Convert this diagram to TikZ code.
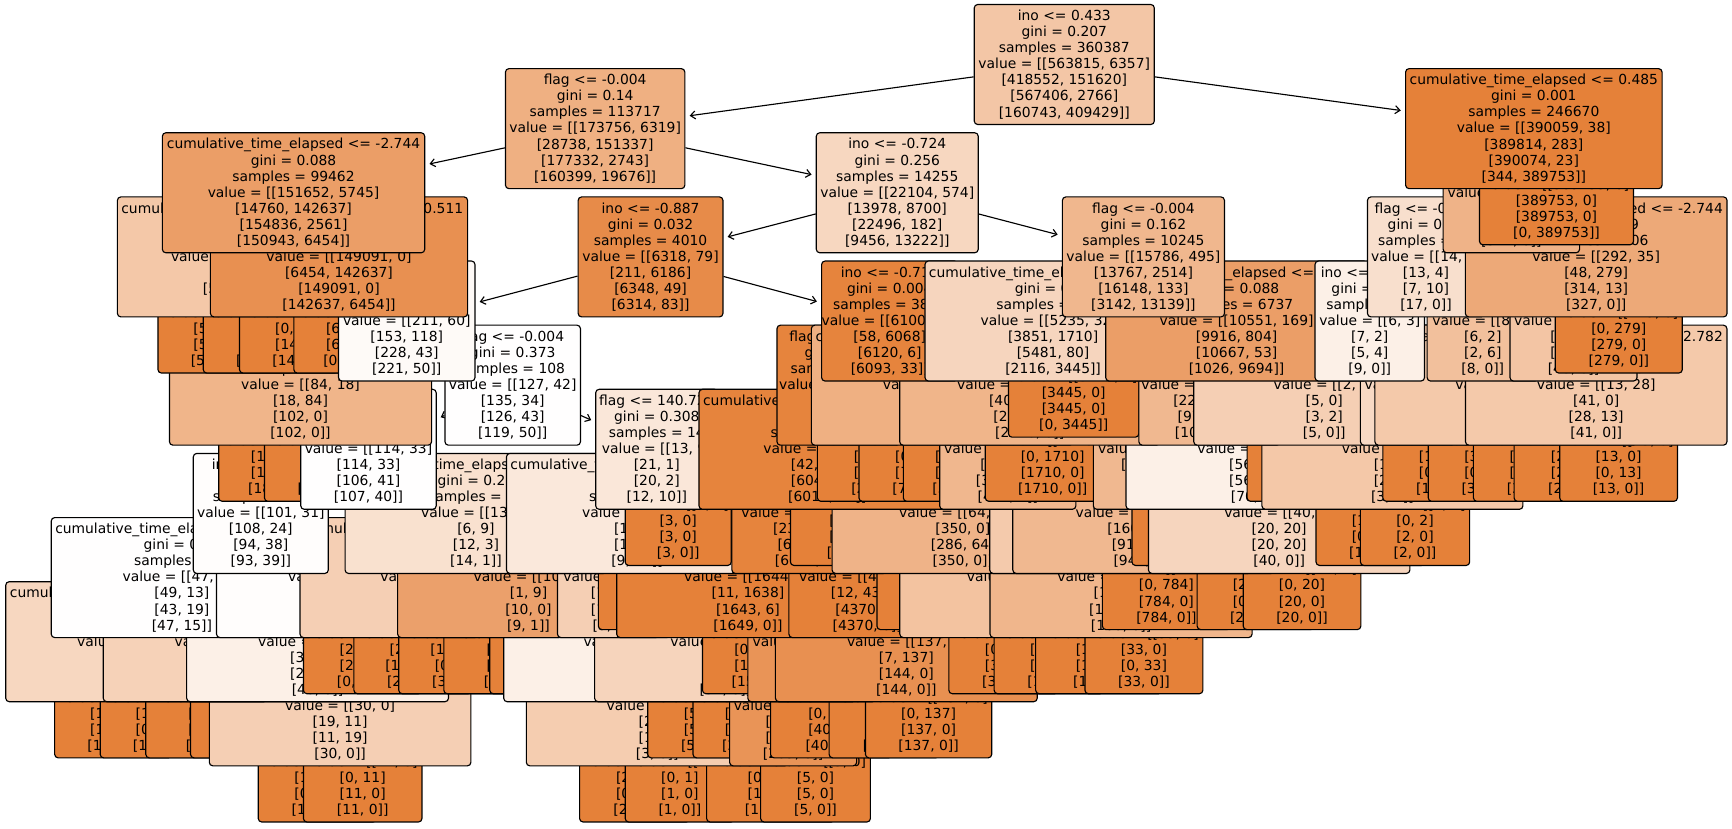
\documentclass[tikz,border=0pt]{standalone}
\usepackage{fontspec}
\setmainfont{DejaVu Sans}
\usetikzlibrary{arrows.meta}
\pgfdeclarelayer{l11}\pgfdeclarelayer{l10}\pgfdeclarelayer{l9}\pgfdeclarelayer{l8}
\pgfdeclarelayer{l7}\pgfdeclarelayer{l6}\pgfdeclarelayer{l5}\pgfdeclarelayer{l4}
\pgfdeclarelayer{l3}\pgfdeclarelayer{l2}\pgfdeclarelayer{l1}\pgfdeclarelayer{l0}
\pgfdeclarelayer{bg}
\pgfsetlayers{bg,l11,l10,l9,l8,l7,l6,l5,l4,l3,l2,l1,l0,main}
\definecolor{treeor}{HTML}{E58139}
\tikzset{
  treebox/.style={draw=black,line width=0.85pt,rounded corners=2.6pt,inner sep=0pt,align=center,
    font=\fontsize{10.4}{12.04}\selectfont,text=black,execute at begin node={\rule{0pt}{9.2pt}}},
  treearrow/.style={draw=black,line width=0.85pt,-{Straight Barb[length=3.6pt,width=6pt]},shorten >=3.2pt}
}
\newcommand{\ct}{cumulative\_time\_elapsed}
\newcommand{\inode}[6]{%
  \pgfmathsetmacro\bcx{(#2+#3)/2}\pgfmathsetmacro\bw{(#3-#2)*0.8284}\pgfmathsetmacro\bcy{64.5+64.13*#4}%
  \begin{pgfonlayer}{l#4}\node[treebox,fill=treeor!#5!white,minimum width=\bw pt,minimum height=90pt] (#1) at (\bcx,\bcy) {#6};\end{pgfonlayer}}
\newcommand{\leafn}[6]{%
  \pgfmathsetmacro\bcx{(#2+#3)/2}\pgfmathsetmacro\bw{(#3-#2)*0.8284}\pgfmathsetmacro\bcy{64.5+64.13*#4}%
  \begin{pgfonlayer}{l#4}\node[treebox,fill=treeor!#5!white,minimum width=\bw pt,minimum height=78pt] (#1) at (\bcx,\bcy) {#6};\end{pgfonlayer}}
\newcommand{\edge}[3]{\begin{pgfonlayer}{l#1}\draw[treearrow] (#2) -- (#3);\end{pgfonlayer}}
\begin{document}
\begin{tikzpicture}[x=0.8284pt,y=-0.75pt]
\begin{pgfonlayer}{bg}\path[fill=white] (0,0) rectangle (1568,828);\end{pgfonlayer}
\useasboundingbox (0,0) rectangle (1568,828);
% level 0
\inode{root}{882}{1045}{0}{45}{ino <= 0.433\\gini = 0.207\\samples = 360387\\value = [[563815, 6357]\\{}[418552, 151620]\\{}[567406, 2766]\\{}[160743, 409429]]}
% level 1
\inode{na}{457.6}{620}{1}{63}{flag <= -0.004\\gini = 0.14\\samples = 113717\\value = [[173756, 6319]\\{}[28738, 151337]\\{}[177332, 2743]\\{}[160399, 19676]]}
\inode{nb}{1272.5}{1504.7}{1}{100}{\ct{} <= 0.485\\gini = 0.001\\samples = 246670\\value = [[390059, 38]\\{}[389814, 283]\\{}[390074, 23]\\{}[344, 389753]]}
\edge{1}{root}{na}\edge{1}{root}{nb}
% level 2
\inode{nc}{147}{384.5}{2}{77}{\ct{} <= -2.744\\gini = 0.088\\samples = 99462\\value = [[151652, 5745]\\{}[14760, 142637]\\{}[154836, 2561]\\{}[150943, 6454]]}
\inode{nd}{739}{885.6}{2}{32}{ino <= -0.724\\gini = 0.256\\samples = 14255\\value = [[22104, 574]\\{}[13978, 8700]\\{}[22496, 182]\\{}[9456, 13222]]}
\inode{ne}{1306.5}{1430}{2}{60}{flag <= -0.004\\gini = 0.14\\samples = 217\\value = [[306, 38]\\{}[61, 283]\\{}[321, 23]\\{}[344, 0]]}
\leafn{nf}{1339.4}{1478.8}{2}{100}{gini = 0.0\\samples = 246453\\value = [[389753, 0]\\{}[389753, 0]\\{}[389753, 0]\\{}[0, 389753]]}
\edge{2}{na}{nc}\edge{2}{na}{nd}
% level 3
\inode{ng}{106.3}{342.7}{3}{44}{\ct{} <= -2.782\\gini = 0.21\\samples = 5258\\value = [[2561, 5745]\\{}[8306, 0]\\{}[5745, 2561]\\{}[8306, 0]]}
\inode{nh}{190.5}{423.3}{3}{88}{\ct{} <= 0.511\\gini = 0.052\\samples = 94204\\value = [[149091, 0]\\{}[6454, 142637]\\{}[149091, 0]\\{}[142637, 6454]]}
\inode{ni}{523.4}{654.5}{3}{92}{ino <= -0.887\\gini = 0.032\\samples = 4010\\value = [[6318, 79]\\{}[211, 6186]\\{}[6348, 49]\\{}[6314, 83]]}
\inode{nj}{961.8}{1108.5}{3}{57}{flag <= -0.004\\gini = 0.162\\samples = 10245\\value = [[15786, 495]\\{}[13767, 2514]\\{}[16148, 133]\\{}[3142, 13139]]}
\inode{nk}{1238}{1344}{3}{25}{flag <= -0.004\\gini = 0.28\\samples = 11\\value = [[14, 3]\\{}[13, 4]\\{}[7, 10]\\{}[17, 0]]}
\inode{nl}{1326.6}{1563.5}{3}{68}{\ct{} <= -2.744\\gini = 0.099\\samples = 206\\value = [[292, 35]\\{}[48, 279]\\{}[314, 13]\\{}[327, 0]]}
\edge{3}{nd}{ni}\edge{3}{nd}{nj}
% level 4
\leafn{la}{143}{265}{4}{100}{gini = 0.0\\samples = 3640\\value = [[5745, 0]\\{}[5745, 0]\\{}[5745, 0]\\{}[5745, 0]]}
\leafn{lb}{184}{306}{4}{100}{gini = 0.0\\samples = 1618\\value = [[2561, 0]\\{}[2561, 0]\\{}[0, 2561]\\{}[2561, 0]]}
\leafn{lc}{216.8}{355}{4}{100}{gini = 0.0\\samples = 94204\\value = [[149091, 0]\\{}[0, 149091]\\{}[149091, 0]\\{}[149091, 0]]}
\leafn{ld}{266}{382}{4}{100}{gini = 0.0\\samples = 4088\\value = [[6454, 0]\\{}[6454, 0]\\{}[6454, 0]\\{}[0, 6454]]}
\inode{le}{306.5}{430}{4}{4}{flag <= -0.004\\gini = 0.33\\samples = 171\\value = [[211, 60]\\{}[153, 118]\\{}[228, 43]\\{}[221, 50]]}
\inode{lf}{744}{867}{4}{98}{ino <= -0.716\\gini = 0.004\\samples = 3839\\value = [[6100, 26]\\{}[58, 6068]\\{}[6120, 6]\\{}[6093, 33]]}
\inode{lg}{837.4}{1069.4}{4}{33}{\ct{} <= 0.511\\gini = 0.25\\samples = 3508\\value = [[5235, 326]\\{}[3851, 1710]\\{}[5481, 80]\\{}[2116, 3445]]}
\inode{lh}{1001}{1238}{4}{77}{\ct{} <= -0.244\\gini = 0.088\\samples = 6737\\value = [[10551, 169]\\{}[9916, 804]\\{}[10667, 53]\\{}[1026, 9694]]}
\inode{lii}{1190.5}{1289.6}{4}{12}{ino <= -0.716\\gini = 0.33\\samples = 6\\value = [[6, 3]\\{}[7, 2]\\{}[5, 4]\\{}[9, 0]]}
\inode{lj}{1292}{1392.8}{4}{50}{ino <= -0.698\\gini = 0.19\\samples = 5\\value = [[8, 0]\\{}[6, 2]\\{}[2, 6]\\{}[8, 0]]}
\inode{lk}{1367}{1482}{4}{46}{ino <= -0.65\\gini = 0.21\\samples = 30\\value = [[13, 35]\\{}[48, 0]\\{}[36, 2]\\{}[48, 0]]}
\leafn{ll}{1408}{1523}{4}{100}{gini = 0.0\\samples = 176\\value = [[279, 0]\\{}[0, 279]\\{}[279, 0]\\{}[279, 0]]}
\edge{4}{ni}{le}\edge{4}{ni}{lf}
% level 5
\inode{ma}{153.4}{390.7}{5}{59}{\ct{} <= -2.801\\gini = 0.14\\samples = 64\\value = [[84, 18]\\{}[18, 84]\\{}[102, 0]\\{}[102, 0]]}
\inode{mb}{402.8}{525.5}{5}{0.5}{flag <= -0.004\\gini = 0.373\\samples = 108\\value = [[127, 42]\\{}[135, 34]\\{}[126, 43]\\{}[119, 50]]}
\inode{mc}{703.4}{814.6}{5}{98}{flag <= 0.002\\gini = 0.0\\samples = 46\\value = [[60, 13]\\{}[0, 73]\\{}[73, 0]\\{}[73, 0]]}
\inode{md}{734.5}{971.5}{5}{63}{\ct{} <= -2.801\\gini = 0.16\\samples = 24\\value = [[13, 26]\\{}[39, 0]\\{}[39, 0]\\{}[6, 33]]}
\inode{me}{814.5}{1050}{5}{59}{\ct{} <= 0.731\\gini = 0.16\\samples = 1330\\value = [[1790, 326]\\{}[406, 1710]\\{}[2036, 80]\\{}[2116, 0]]}
\leafn{mf}{913}{1031}{5}{100}{gini = 0.0\\samples = 2178\\value = [[3445, 0]\\{}[3445, 0]\\{}[3445, 0]\\{}[0, 3445]]}
\inode{mg}{1031}{1159}{5}{56}{flag <= -0.002\\gini = 0.17\\samples = 648\\value = [[857, 169]\\{}[222, 804]\\{}[973, 53]\\{}[1026, 0]]}
\inode{mh}{1080.7}{1317}{5}{38}{\ct{} <= -2.805\\gini = 0.24\\samples = 3\\value = [[2, 3]\\{}[5, 0]\\{}[3, 2]\\{}[5, 0]]}
\inode{mi}{1231.6}{1330.5}{5}{30}{flag <= 0.0\\gini = 0.26\\samples = 3\\value = [[4, 0]\\{}[2, 2]\\{}[2, 2]\\{}[4, 0]]}
\inode{mj}{1244.7}{1481.7}{5}{43}{\ct{} <= -0.903\\gini = 0.21\\samples = 4\\value = [[6, 0]\\{}[4, 2]\\{}[2, 4]\\{}[6, 0]]}
\inode{mk}{1326.7}{1563.4}{5}{43}{\ct{} <= -2.782\\gini = 0.21\\samples = 26\\value = [[13, 28]\\{}[41, 0]\\{}[28, 13]\\{}[41, 0]]}
% level 6
\leafn{pa}{198}{298}{6}{100}{gini = 0.0\\samples = 12\\value = [[0, 18]\\{}[18, 0]\\{}[18, 0]\\{}[18, 0]]}
\leafn{pb}{239.4}{346}{6}{100}{gini = 0.0\\samples = 52\\value = [[84, 0]\\{}[0, 84]\\{}[84, 0]\\{}[84, 0]]}
\inode{pc}{272.3}{394.9}{6}{0.5}{flag <= -0.004\\gini = 0.37\\samples = 94\\value = [[114, 33]\\{}[114, 33]\\{}[106, 41]\\{}[107, 40]]}
\inode{pd}{539.3}{650}{6}{19}{flag <= 140.724\\gini = 0.308\\samples = 14\\value = [[13, 9]\\{}[21, 1]\\{}[20, 2]\\{}[12, 10]]}
\inode{pe}{632.8}{865}{6}{98}{\ct{} <= 0.611\\gini = 0.005\\samples = 3800\\value = [[6061, 0]\\{}[42, 6019]\\{}[6042, 19]\\{}[6019, 42]]}
\leafn{pf}{740}{840}{6}{100}{gini = 0.0\\samples = 1\\value = [[2, 0]\\{}[0, 2]\\{}[2, 0]\\{}[2, 0]]}
\leafn{pg}{777.6}{877}{6}{100}{gini = 0.0\\samples = 5\\value = [[7, 0]\\{}[0, 7]\\{}[7, 0]\\{}[7, 0]]}
\leafn{ph}{818}{917}{6}{100}{gini = 0.0\\samples = 20\\value = [[32, 0]\\{}[32, 0]\\{}[32, 0]\\{}[32, 0]]}
\inode{pi}{850.7}{974}{6}{57}{flag <= -0.001\\gini = 0.17\\samples = 256\\value = [[80, 326]\\{}[406, 0]\\{}[326, 80]\\{}[406, 0]]}
\leafn{pj}{892}{1014}{6}{100}{gini = 0.0\\samples = 1074\\value = [[1710, 0]\\{}[0, 1710]\\{}[1710, 0]\\{}[1710, 0]]}
\inode{pk}{989.8}{1106}{6}{56}{ino <= -0.68\\gini = 0.12\\samples = 203\\value = [[322, 0]\\{}[166, 156]\\{}[322, 0]\\{}[322, 0]]}
\inode{pl}{1019.4}{1256}{6}{12}{\ct{} <= -0.731\\gini = 0.3\\samples = 45\\value = [[56, 14]\\{}[56, 14]\\{}[56, 14]\\{}[70, 0]]}
\leafn{pm}{1129}{1228}{6}{100}{gini = 0.0\\samples = 1\\value = [[2, 0]\\{}[2, 0]\\{}[0, 2]\\{}[2, 0]]}
\inode{pn}{1142.4}{1378.7}{6}{44}{\ct{} <= -1.031\\gini = 0.22\\samples = 2\\value = [[3, 0]\\{}[1, 2]\\{}[2, 1]\\{}[3, 0]]}
\leafn{po}{1251.9}{1351}{6}{100}{gini = 0.0\\samples = 1\\value = [[1, 0]\\{}[1, 0]\\{}[0, 1]\\{}[1, 0]]}
\leafn{pp}{1293}{1392}{6}{100}{gini = 0.0\\samples = 2\\value = [[3, 0]\\{}[3, 0]\\{}[0, 3]\\{}[3, 0]]}
\leafn{pq}{1333.9}{1433}{6}{100}{gini = 0.0\\samples = 2\\value = [[3, 0]\\{}[1, 2]\\{}[2, 1]\\{}[3, 0]]}
\leafn{pr}{1370.7}{1479}{6}{100}{gini = 0.0\\samples = 18\\value = [[0, 28]\\{}[28, 0]\\{}[28, 0]\\{}[28, 0]]}
\leafn{ps}{1412}{1518.6}{6}{100}{gini = 0.0\\samples = 8\\value = [[13, 0]\\{}[13, 0]\\{}[0, 13]\\{}[13, 0]]}
\edge{6}{mb}{pc}\edge{6}{mb}{pd}
% level 7
\inode{qa}{175}{297.2}{7}{1.5}{ino <= -0.701\\gini = 0.37\\samples = 84\\value = [[101, 31]\\{}[108, 24]\\{}[94, 38]\\{}[93, 39]]}
\inode{qb}{312.4}{549.4}{7}{24}{\ct{} <= -0.412\\gini = 0.28\\samples = 10\\value = [[13, 2]\\{}[6, 9]\\{}[12, 3]\\{}[14, 1]]}
\inode{qc}{458.5}{695}{7}{18}{\ct{} <= -0.426\\gini = 0.31\\samples = 12\\value = [[10, 9]\\{}[18, 1]\\{}[17, 2]\\{}[9, 10]]}
\leafn{qd}{566}{662}{7}{100}{gini = 0.0\\samples = 2\\value = [[3, 0]\\{}[3, 0]\\{}[3, 0]\\{}[3, 0]]}
\inode{qe}{662.6}{803}{7}{98}{ino <= -0.72\\gini = 0.003\\samples = 3770\\value = [[5996, 23]\\{}[23, 5996]\\{}[6019, 0]\\{}[6019, 0]]}
\leafn{qf}{715.6}{820}{7}{100}{gini = 0.0\\samples = 3\\value = [[5, 0]\\{}[5, 0]\\{}[5, 0]\\{}[5, 0]]}
\inode{qg}{753.3}{990}{7}{60}{\ct{} <= -0.851\\gini = 0.15\\samples = 219\\value = [[64, 286]\\{}[350, 0]\\{}[286, 64]\\{}[350, 0]]}
\inode{qh}{896}{1133}{7}{42}{\ct{} <= -1.107\\gini = 0.21\\samples = 36\\value = [[16, 40]\\{}[56, 0]\\{}[40, 16]\\{}[56, 0]]}
\inode{qi}{916.9}{1153.9}{7}{56}{\ct{} <= -0.926\\gini = 0.17\\samples = 590\\value = [[784, 160]\\{}[160, 784]\\{}[914, 30]\\{}[944, 0]]}
\leafn{qj}{1027}{1130}{7}{100}{gini = 0.0\\samples = 300\\value = [[480, 0]\\{}[0, 480]\\{}[480, 0]\\{}[480, 0]]}
\inode{qk}{1039.7}{1276.4}{7}{33}{\ct{} <= -2.791\\gini = 0.25\\samples = 25\\value = [[40, 0]\\{}[20, 20]\\{}[20, 20]\\{}[40, 0]]}
\leafn{ql}{1191.4}{1290}{7}{100}{gini = 0.0\\samples = 1\\value = [[1, 0]\\{}[1, 0]\\{}[0, 1]\\{}[1, 0]]}
\leafn{qm}{1231.6}{1330.5}{7}{100}{gini = 0.0\\samples = 1\\value = [[2, 0]\\{}[0, 2]\\{}[2, 0]\\{}[2, 0]]}
% level 8
\inode{ra}{46.4}{283}{8}{0.5}{\ct{} <= -2.795\\gini = 0.37\\samples = 39\\value = [[47, 15]\\{}[49, 13]\\{}[43, 19]\\{}[47, 15]]}
\inode{rb}{196}{433}{8}{1.5}{\ct{} <= -0.614\\gini = 0.37\\samples = 45\\value = [[54, 16]\\{}[59, 11]\\{}[51, 19]\\{}[46, 24]]}
\inode{rc}{271.6}{508.6}{8}{38}{\ct{} <= -1.215\\gini = 0.23\\samples = 3\\value = [[3, 2]\\{}[5, 0]\\{}[2, 3]\\{}[5, 0]]}
\inode{rd}{360}{597}{8}{75}{\ct{} <= -1.107\\gini = 0.09\\samples = 7\\value = [[10, 0]\\{}[1, 9]\\{}[10, 0]\\{}[9, 1]]}
\inode{re}{504.7}{607}{8}{38}{ino <= -0.7\\gini = 0.23\\samples = 11\\value = [[9, 9]\\{}[17, 1]\\{}[17, 1]\\{}[9, 9]]}
\leafn{rf}{541.7}{654}{8}{100}{gini = 0.0\\samples = 1\\value = [[1, 0]\\{}[1, 0]\\{}[0, 1]\\{}[0, 1]]}
\inode{rg}{558.3}{796}{8}{100}{\ct{} <= -0.702\\gini = 0.004\\samples = 1030\\value = [[1644, 5]\\{}[11, 1638]\\{}[1643, 6]\\{}[1649, 0]]}
\inode{rh}{714.2}{856}{8}{100}{flag <= 0.0\\gini = 0.002\\samples = 2740\\value = [[4358, 12]\\{}[12, 4358]\\{}[4370, 0]\\{}[4370, 0]]}
\leafn{ri}{793.9}{893}{8}{100}{gini = 0.0\\samples = 5\\value = [[8, 0]\\{}[0, 8]\\{}[8, 0]\\{}[8, 0]]}
\inode{rj}{814.6}{1051.6}{8}{48}{\ct{} <= -1.316\\gini = 0.19\\samples = 119\\value = [[64, 128]\\{}[192, 0]\\{}[128, 64]\\{}[192, 0]]}
\inode{rk}{896.3}{1133.5}{8}{58}{\ct{} <= -1.421\\gini = 0.16\\samples = 100\\value = [[130, 30]\\{}[160, 0]\\{}[130, 30]\\{}[160, 0]]}
\leafn{rl}{998}{1114}{8}{100}{gini = 0.0\\samples = 490\\value = [[784, 0]\\{}[0, 784]\\{}[784, 0]\\{}[784, 0]]}
\leafn{rm}{1083.8}{1190}{8}{100}{gini = 0.0\\samples = 12\\value = [[20, 0]\\{}[20, 0]\\{}[0, 20]\\{}[20, 0]]}
\leafn{rn}{1125.5}{1232}{8}{100}{gini = 0.0\\samples = 13\\value = [[20, 0]\\{}[0, 20]\\{}[20, 0]\\{}[20, 0]]}
% level 9
\inode{sa}{5.2}{242}{9}{32}{\ct{} <= -2.801\\gini = 0.25\\samples = 18\\value = [[13, 16]\\{}[29, 0]\\{}[16, 13]\\{}[29, 0]]}
\inode{sb}{93.5}{330}{9}{36}{\ct{} <= -2.732\\gini = 0.24\\samples = 21\\value = [[16, 17]\\{}[33, 0]\\{}[17, 16]\\{}[33, 0]]}
\inode{sc}{169}{406}{9}{12}{\ct{} <= -0.444\\gini = 0.33\\samples = 25\\value = [[30, 10]\\{}[30, 10]\\{}[29, 11]\\{}[40, 0]]}
\leafn{sd}{274.7}{382}{9}{100}{gini = 0.0\\samples = 15\\value = [[24, 0]\\{}[24, 0]\\{}[24, 0]\\{}[0, 24]]}
\leafn{se}{320.4}{427}{9}{100}{gini = 0.0\\samples = 13\\value = [[21, 0]\\{}[21, 0]\\{}[11, 10]\\{}[21, 0]]}
\leafn{sf}{361}{468}{9}{100}{gini = 0.0\\samples = 24\\value = [[39, 0]\\{}[13, 26]\\{}[0, 39]\\{}[39, 0]]}
\leafn{sg}{401.8}{513}{9}{100}{gini = 0.0\\samples = 6\\value = [[9, 0]\\{}[0, 9]\\{}[9, 0]\\{}[9, 0]]}
\leafn{sh}{443.4}{550}{9}{100}{gini = 0.0\\samples = 1\\value = [[1, 0]\\{}[1, 0]\\{}[1, 0]\\{}[0, 1]]}
\inode{si}{456}{692}{9}{12}{\ct{} <= -0.517\\gini = 0.33\\samples = 6\\value = [[6, 3]\\{}[5, 4]\\{}[4, 5]\\{}[9, 0]]}
\inode{sj}{538.3}{775}{9}{34}{\ct{} <= -1.523\\gini = 0.25\\samples = 20\\value = [[5, 26]\\{}[26, 5]\\{}[5, 26]\\{}[31, 0]]}
\leafn{sk}{636.3}{735}{9}{100}{gini = 0.0\\samples = 9\\value = [[15, 0]\\{}[0, 15]\\{}[15, 0]\\{}[15, 0]]}
\inode{sl}{677}{793}{9}{85}{ino <= -0.7\\gini = 0.06\\samples = 80\\value = [[40, 20]\\{}[20, 40]\\{}[60, 0]\\{}[60, 0]]}
\inode{sm}{702}{939}{9}{88}{\ct{} <= -1.648\\gini = 0.05\\samples = 90\\value = [[137, 7]\\{}[7, 137]\\{}[144, 0]\\{}[144, 0]]}
\leafn{sn}{859}{958}{9}{100}{gini = 0.0\\samples = 2\\value = [[3, 0]\\{}[0, 3]\\{}[3, 0]\\{}[3, 0]]}
\leafn{so}{900}{999}{9}{100}{gini = 0.0\\samples = 1\\value = [[1, 0]\\{}[0, 1]\\{}[1, 0]\\{}[1, 0]]}
\leafn{sp}{937.6}{1052}{9}{100}{gini = 0.0\\samples = 8\\value = [[13, 0]\\{}[13, 0]\\{}[13, 0]\\{}[13, 0]]}
\leafn{sq}{982.2}{1089}{9}{100}{gini = 0.0\\samples = 20\\value = [[33, 0]\\{}[33, 0]\\{}[0, 33]\\{}[33, 0]]}
% level 10
\leafn{ta}{49.5}{155.5}{10}{100}{gini = 0.0\\samples = 8\\value = [[13, 0]\\{}[13, 0]\\{}[13, 0]\\{}[13, 0]]}
\leafn{tb}{90.7}{196.7}{10}{100}{gini = 0.0\\samples = 10\\value = [[16, 0]\\{}[16, 0]\\{}[0, 16]\\{}[16, 0]]}
\leafn{tc}{132}{251}{10}{100}{gini = 0.0\\samples = 11\\value = [[17, 0]\\{}[0, 17]\\{}[17, 0]\\{}[17, 0]]}
\leafn{td}{172.5}{292}{10}{100}{gini = 0.0\\samples = 10\\value = [[16, 0]\\{}[16, 0]\\{}[16, 0]\\{}[16, 0]]}
\inode{te}{189.5}{426.3}{10}{38}{\ct{} <= -1.702\\gini = 0.23\\samples = 19\\value = [[30, 0]\\{}[19, 11]\\{}[11, 19]\\{}[30, 0]]}
\inode{tf}{476.5}{713.5}{10}{40}{\ct{} <= -1.804\\gini = 0.22\\samples = 2\\value = [[3, 0]\\{}[2, 1]\\{}[1, 2]\\{}[3, 0]]}
\leafn{tg}{586.4}{685.4}{10}{100}{gini = 0.0\\samples = 3\\value = [[5, 0]\\{}[5, 0]\\{}[5, 0]\\{}[5, 0]]}
\leafn{th}{627.6}{726.6}{10}{100}{gini = 0.0\\samples = 16\\value = [[26, 0]\\{}[26, 0]\\{}[26, 0]\\{}[26, 0]]}
\inode{ti}{660.5}{775.5}{10}{85}{ino <= -0.71\\gini = 0.06\\samples = 129\\value = [[200, 5]\\{}[5, 200]\\{}[200, 5]\\{}[205, 0]]}
\leafn{tj}{697.6}{807.6}{10}{100}{gini = 0.0\\samples = 25\\value = [[40, 0]\\{}[0, 40]\\{}[40, 0]\\{}[40, 0]]}
\leafn{tk}{750.6}{850.2}{10}{100}{gini = 0.0\\samples = 4\\value = [[7, 0]\\{}[7, 0]\\{}[0, 7]\\{}[7, 0]]}
\leafn{tl}{783.5}{897.8}{10}{100}{gini = 0.0\\samples = 86\\value = [[137, 0]\\{}[0, 137]\\{}[137, 0]\\{}[137, 0]]}
% level 11
\leafn{ua}{233.8}{341}{11}{100}{gini = 0.0\\samples = 12\\value = [[19, 0]\\{}[19, 0]\\{}[0, 19]\\{}[19, 0]]}
\leafn{ub}{274.7}{382}{11}{100}{gini = 0.0\\samples = 7\\value = [[11, 0]\\{}[0, 11]\\{}[11, 0]\\{}[11, 0]]}
\leafn{uc}{524.7}{624.5}{11}{100}{gini = 0.0\\samples = 1\\value = [[2, 0]\\{}[2, 0]\\{}[0, 2]\\{}[2, 0]]}
\leafn{ud}{566}{665}{11}{100}{gini = 0.0\\samples = 1\\value = [[1, 0]\\{}[0, 1]\\{}[1, 0]\\{}[1, 0]]}
\leafn{ue}{639.7}{755.7}{11}{100}{gini = 0.0\\samples = 9\\value = [[15, 0]\\{}[0, 15]\\{}[15, 0]\\{}[15, 0]]}
\leafn{uf}{688.6}{788}{11}{100}{gini = 0.0\\samples = 3\\value = [[5, 0]\\{}[5, 0]\\{}[5, 0]\\{}[5, 0]]}
\end{tikzpicture}
\end{document}
